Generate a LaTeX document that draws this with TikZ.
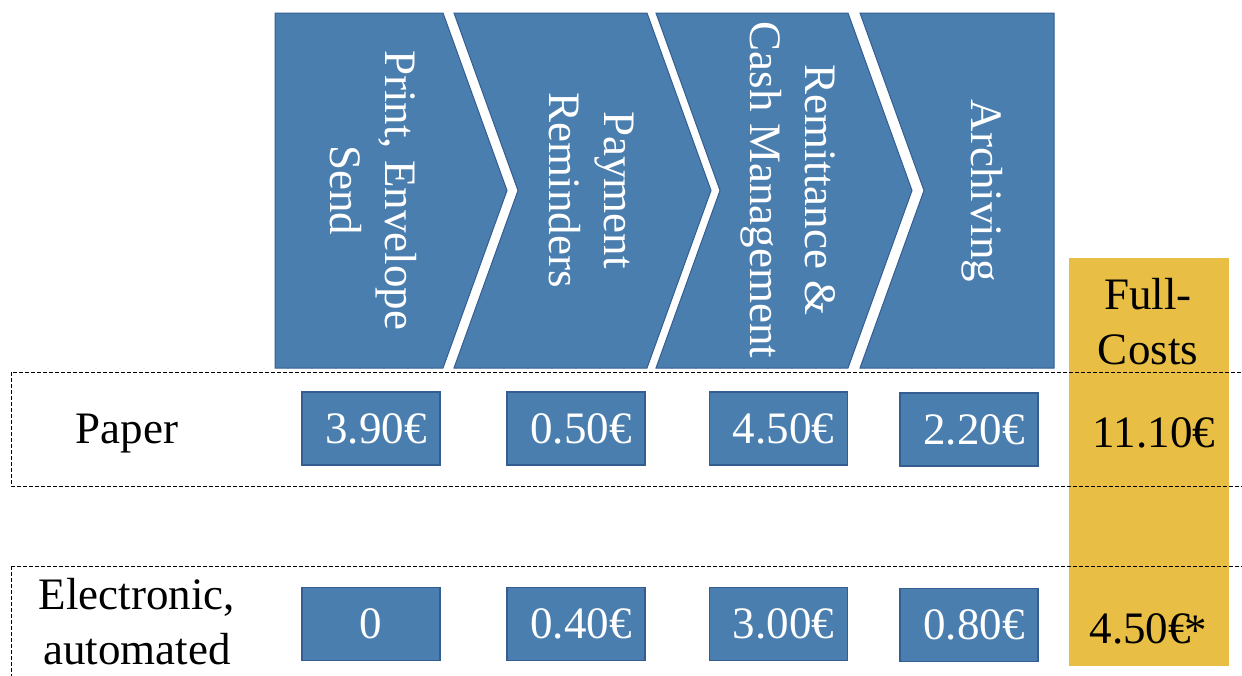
\documentclass[tikz,border=0pt]{standalone}
\usepackage{fontspec}
\setmainfont{Liberation Serif}
\definecolor{cblue}{RGB}{74,126,174}
\definecolor{cborder}{RGB}{52,94,146}
\definecolor{cyellow}{RGB}{232,190,69}
\newcommand{\bigtxt}{\fontsize{22.5}{27.5}\selectfont}
\newcommand{\eur}[1]{\kern5pt #1}
\begin{document}
\begin{tikzpicture}[x=0.5pt,y=-0.5pt,
  chev/.style={fill=cblue, draw=cborder, line width=0.5pt, line join=miter},
  chevtext/.style={text=white, rotate=-90, align=center, inner sep=0pt, font=\bigtxt},
  valbox/.style={fill=cblue, draw=cborder, line width=0.6pt, minimum width=69pt, minimum height=36.5pt, inner sep=0pt, text=white, font=\bigtxt},
  lbl/.style={text=black, inner sep=0pt, font=\bigtxt, align=center},
  rowframe/.style={draw=black, line width=0.5pt, dash pattern=on 2pt off 1pt}]
\useasboundingbox (0,0) rectangle (1242,675);
\clip (0,0) rectangle (1242,675);
\fill[white] (0,0) rectangle (1242,675);
% chevrons
\path[chev] (275,13) -- (443,13) -- (507,190.5) -- (443,368) -- (275,368) -- cycle;
\path[chev] (454,13) -- (647,13) -- (711,190.5) -- (647,368) -- (454,368) -- (518,190.5) -- cycle;
\path[chev] (656,13) -- (848,13) -- (912,190.5) -- (848,368) -- (656,368) -- (720,190.5) -- cycle;
\path[chev] (860,13) -- (1054,13) -- (1054,368) -- (860,368) -- (924,190.5) -- cycle;
\node[chevtext] (c1) at (373,190) {Print, Envelope\\Send};
\node[chevtext] (c2) at (592,190) {Payment\\Reminders};
\node[chevtext] (c3) at (788,190) {Remittance \&\\Cash Management};
\node[chevtext] (c4) at (982,191) {Archiving};
% full costs column
\fill[cyellow] (1069,258) rectangle (1229,666);
\node[lbl] (fchead) at (1148,322) {Full-\\Costs};
% row frames
\draw[rowframe] (11,372) rectangle (1262,486);
\draw[rowframe] (11,566) rectangle (1262,700);
% row labels
\node[lbl, anchor=base] (lpaper) at (127,443) {Paper};
\node[lbl] (lelec) at (137,621.5) {Electronic,\\automated};
% value boxes
\node[valbox] (p1) at (371,428.5) {\eur{3.90€}};
\node[valbox] (p2) at (576,428.5) {\eur{0.50€}};
\node[valbox] (p3) at (778.5,428.5) {\eur{4.50€}};
\node[valbox] (p4) at (969,429.5) {\eur{2.20€}};
\node[valbox] (e1) at (371,624) {0};
\node[valbox] (e2) at (576,624) {\eur{0.40€}};
\node[valbox] (e3) at (778.5,624) {\eur{3.00€}};
\node[valbox] (e4) at (969,625) {\eur{0.80€}};
% totals
\node[lbl, anchor=base] (fpaper) at (1154,447) {11.10€};
\node[lbl, anchor=base] (felec) at (1148,643) {4.50€\kern-0.15em\raisebox{-0.05em}{*}};
\end{tikzpicture}
\end{document}
